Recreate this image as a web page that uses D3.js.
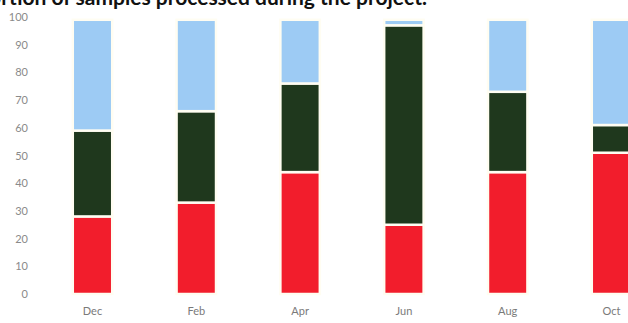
<!DOCTYPE html>
<html>
<head>
<meta charset="utf-8">
<script src="https://cdn.jsdelivr.net/npm/d3@7"></script>
<style>
  html, body { margin: 0; padding: 0; background: #ffffff; overflow: hidden; }
  svg { display: block; }
</style>
</head>
<body>
<svg id="chart" width="628" height="323"></svg>
<script>
// Data
const categories = ["Dec", "Feb", "Apr", "Jun", "Aug", "Oct"];
const seriesNames = ["Red", "Green", "Blue"];
const redValues   = [28, 33, 44, 25, 44, 51];
const greenValues = [31, 33, 32, 72, 29, 10];
const blueValues  = [40, 33, 23, 2, 26, 38];
const yTicks = [0, 10, 20, 30, 40, 50, 60, 70, 80, 90, 100];
const titleText = "Proportion of samples processed during the project.";

const colors = { Red: "#f21d2c", Green: "#1f381d", Blue: "#9dcbf4" };

const W = 628, H = 323;
const svg = d3.select("#chart");

const rows = categories.map((c, i) => ({
  cat: c, Red: redValues[i], Green: greenValues[i], Blue: blueValues[i]
}));

const x = d3.scaleBand()
  .domain(categories)
  .range([40.6, 663.4])
  .paddingInner(0.62)
  .paddingOuter(0.31);

const y = d3.scaleLinear().domain([0, 100]).range([294, 17]);

const stack = d3.stack().keys(seriesNames);
const layers = stack(rows);

// Title (cut off at the top of the picture)
svg.append("text")
  .attr("x", 427)
  .attr("y", 5)
  .attr("text-anchor", "end")
  .attr("font-family", "Lato, 'Open Sans', sans-serif")
  .attr("font-weight", "bold")
  .attr("font-size", 21)
  .attr("fill", "#111")
  .text(titleText);

// Bars
svg.append("g").selectAll("g")
  .data(layers)
  .join("g")
  .attr("fill", d => colors[d.key])
  .selectAll("rect")
  .data(d => d)
  .join("rect")
  .attr("x", d => x(d.data.cat))
  .attr("width", x.bandwidth())
  .attr("y", d => y(d[1]))
  .attr("height", d => y(d[0]) - y(d[1]))
  .attr("stroke", "#fffdf2")
  .attr("stroke-width", 2.5);

// Y axis labels
const yAxis = d3.axisLeft(y).tickValues(yTicks).tickSize(0).tickPadding(0);
const gy = svg.append("g").attr("transform", "translate(28,0)").call(yAxis);
gy.select(".domain").remove();
gy.selectAll("text")
  .attr("font-family", "Lato, 'Open Sans', sans-serif")
  .attr("font-size", 11)
  .attr("fill", "#8a8a8a");

// X axis labels
const xAxis = d3.axisBottom(x).tickSize(0).tickPadding(0);
const gx = svg.append("g").attr("transform", "translate(0,307)").call(xAxis);
gx.select(".domain").remove();
gx.selectAll("text")
  .attr("font-family", "Lato, 'Open Sans', sans-serif")
  .attr("font-size", 11)
  .attr("fill", "#7a7a7a");
</script>
</body>
</html>
